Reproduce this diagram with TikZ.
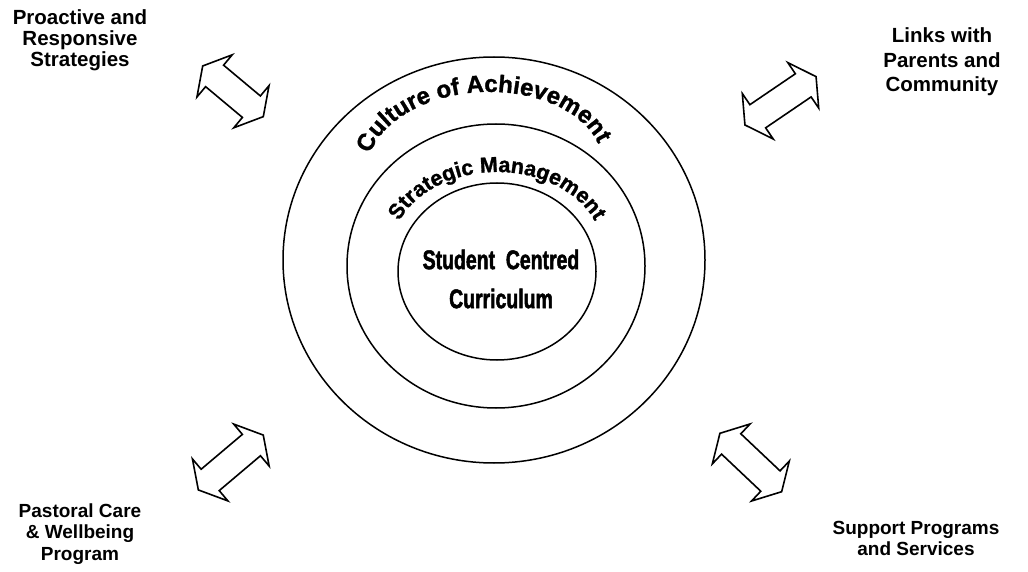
\documentclass[tikz,border=0pt]{standalone}
\usepackage{fontspec}
\setmainfont{Liberation Sans}
\newfontfamily\heavyfont[BoldFeatures={FakeBold=1.3}]{Liberation Sans}
\newfontfamily\narrowfont[FakeStretch=0.72,BoldFeatures={FakeBold=1.8}]{Liberation Sans}
\usetikzlibrary{shapes.geometric,decorations.text}

\tikzset{
  ring/.style={ellipse, draw, line width=1.5pt, inner sep=0pt, outer sep=0pt},
  label/.style={align=center, font=\bfseries\fontsize{20.5}{24.5}\selectfont},
  lowlabel/.style={align=center, font=\bfseries\fontsize{19}{21.5}\selectfont},
  arrowline/.style={draw, line width=1.6pt, line join=miter, fill=white},
  pics/dblarrow/.style={code={
    % double-headed block arrow, #1 = half of tip-to-tip length
    \path[arrowline] (#1,0) -- (#1-15.5,27.5) -- (#1-15.5,14) -- (-#1+15.5,14)
      -- (-#1+15.5,27.5) -- (-#1,0) -- (-#1+15.5,-27.5) -- (-#1+15.5,-14)
      -- (#1-15.5,-14) -- (#1-15.5,-27.5) -- cycle;
  }},
}

\begin{document}
\begin{tikzpicture}[x=1pt,y=1pt]
\useasboundingbox (0,0) rectangle (1028,-572);

% concentric rings
\node[ring, minimum width=422, minimum height=406] (outer) at (494,-260) {};
\node[ring, minimum width=298, minimum height=284] (middle) at (496,-266) {};
\node[ring, minimum width=198, minimum height=177] (inner) at (497,-271.5) {};

% arched titles of the rings
\path[rotate around={2.5:(485,-168)}, decorate, decoration={text along path, text align=center,
  text={|\heavyfont\bfseries\fontsize{24}{24}\selectfont|Culture of Achievement}}]
  (485,-168) ++(185:118 and 76) arc[start angle=185, end angle=-5, x radius=118, y radius=76];
\path[decorate, decoration={text along path, text align=center,
  text={|\heavyfont\bfseries\fontsize{21.5}{21.5}\selectfont|Strategic Management}}]
  (497,-252) ++(185:106 and 80) arc[start angle=185, end angle=-5, x radius=106, y radius=80];

% core
\node[align=center, font=\narrowfont\bfseries\fontsize{27}{39}\selectfont] (core) at (501,-279)
  {Student\ \ Centred\\Curriculum};

% corner labels
\node[label, font=\bfseries\fontsize{20.5}{21}\selectfont] (pro) at (80,-40) {Proactive and\\Responsive\\Strategies};
\node[label] (links) at (942,-62) {Links with\\Parents and\\Community};
\node[lowlabel] (past) at (80,-534) {Pastoral Care\\\& Wellbeing\\Program};
\node[lowlabel] (supp) at (916,-538.5) {Support Programs\\and Services};

% double arrows between the rings and the corner labels
\pic[rotate=-39.9] (arrTL) at (233,-91.3) {dblarrow=39.5};
\pic[rotate=34.2] (arrTR) at (780.5,-100.8) {dblarrow=43};
\pic[rotate=40.2] (arrBL) at (230.8,-462.5) {dblarrow=42.5};
\pic[rotate=-43.4] (arrBR) at (750.8,-462.5) {dblarrow=42.5};
\end{tikzpicture}
\end{document}
